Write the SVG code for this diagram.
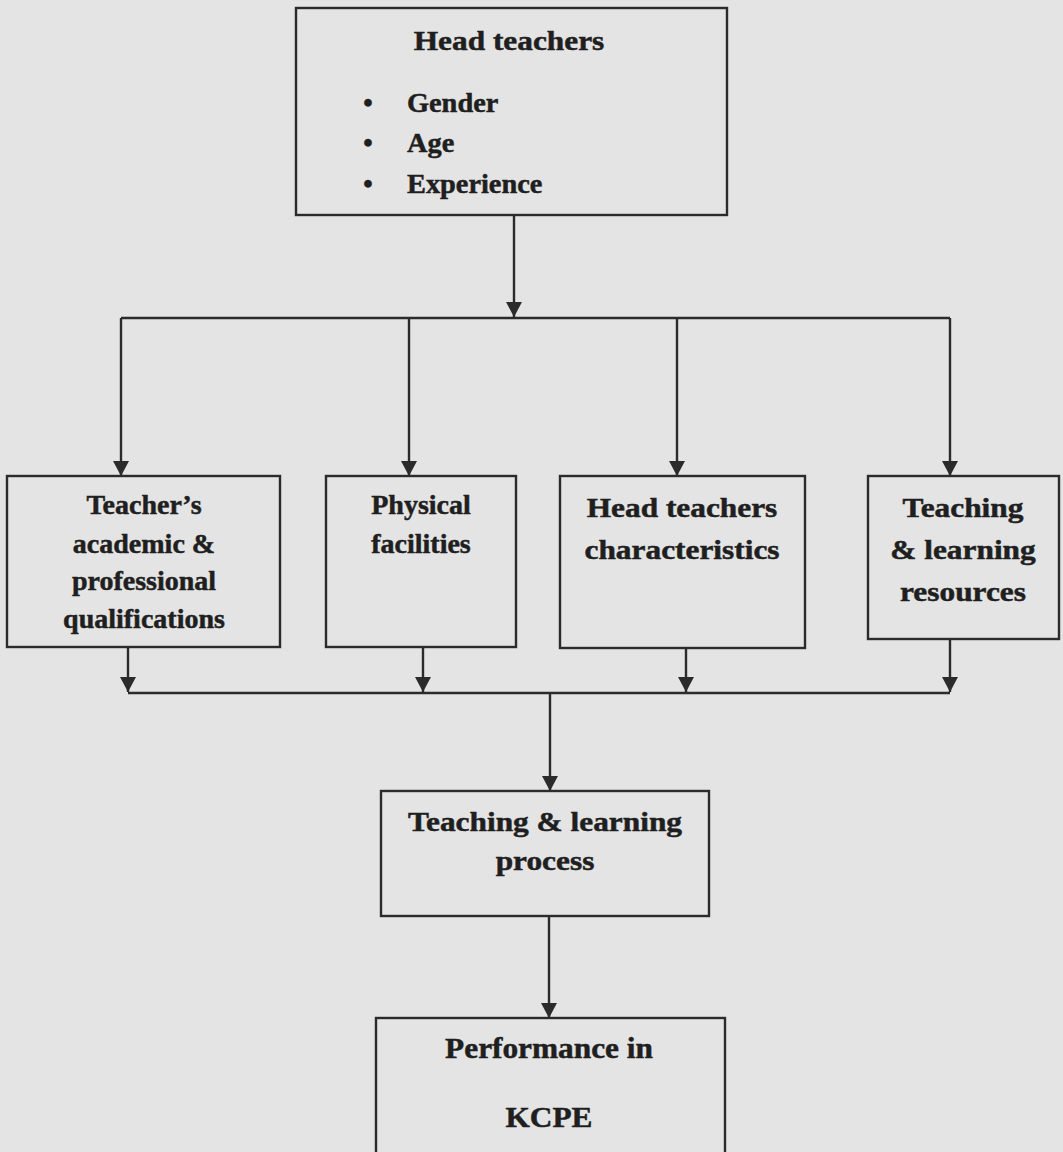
<svg xmlns="http://www.w3.org/2000/svg" width="1063" height="1152" viewBox="0 0 1063 1152">
  <style>
    .box { fill: none; stroke: #2b2b2b; stroke-width: 2.4; }
    .conn { fill: none; stroke: #2b2b2b; stroke-width: 2.4; }
    .t { font-family: "Liberation Serif", "Times New Roman", serif; font-weight: bold; font-size: 28px; fill: #1f1f1f; stroke: #1f1f1f; stroke-width: 0.5; text-anchor: middle; }
    .b { font-family: "Liberation Serif", "Times New Roman", serif; font-weight: bold; font-size: 27px; fill: #1f1f1f; stroke: #1f1f1f; stroke-width: 0.5; }
  </style>
  <defs>
    <marker id="ah" viewBox="0 0 15 16" refX="15" refY="8" markerWidth="15" markerHeight="16" markerUnits="userSpaceOnUse" orient="auto">
      <path d="M0,0 L15,8 L0,16 Z" fill="#2b2b2b"/>
    </marker>
  </defs>
  <rect x="0" y="0" width="1063" height="1152" fill="#e4e4e4"/>

  <g id="connectors">
    <line class="conn" x1="514" y1="215" x2="514" y2="317" marker-end="url(#ah)"/>
    <line class="conn" x1="121" y1="318" x2="950" y2="318"/>
    <line class="conn" x1="121" y1="318" x2="121" y2="476" marker-end="url(#ah)"/>
    <line class="conn" x1="409" y1="318" x2="409" y2="476" marker-end="url(#ah)"/>
    <line class="conn" x1="677" y1="318" x2="677" y2="476" marker-end="url(#ah)"/>
    <line class="conn" x1="950" y1="318" x2="950" y2="476" marker-end="url(#ah)"/>
    <line class="conn" x1="128" y1="647" x2="128" y2="692" marker-end="url(#ah)"/>
    <line class="conn" x1="423" y1="647" x2="423" y2="692" marker-end="url(#ah)"/>
    <line class="conn" x1="686" y1="648" x2="686" y2="692" marker-end="url(#ah)"/>
    <line class="conn" x1="950" y1="639" x2="950" y2="692" marker-end="url(#ah)"/>
    <line class="conn" x1="128" y1="693" x2="950" y2="693"/>
    <line class="conn" x1="550" y1="693" x2="550" y2="791" marker-end="url(#ah)"/>
    <line class="conn" x1="549" y1="916" x2="549" y2="1018" marker-end="url(#ah)"/>
  </g>

  <g id="head-teachers">
    <rect class="box" x="296" y="8" width="431" height="207"/>
    <text class="t" transform="translate(509 0) scale(1.12 1)" x="0" y="50">Head teachers</text>
    <text class="b" x="368" y="112" text-anchor="middle">•</text>
    <text class="b" x="368" y="152" text-anchor="middle">•</text>
    <text class="b" x="368" y="193" text-anchor="middle">•</text>
    <text class="b" transform="translate(407 0) scale(1.05 1)" x="0" y="112">Gender</text>
    <text class="b" transform="translate(407 0) scale(1.05 1)" x="0" y="152">Age</text>
    <text class="b" transform="translate(407 0) scale(1.05 1)" x="0" y="193">Experience</text>
  </g>

  <g id="teacher-qualifications">
    <rect class="box" x="7" y="476" width="273" height="171"/>
    <text class="t" x="144" y="514">Teacher’s</text>
    <text class="t" x="144" y="553">academic &amp;</text>
    <text class="t" x="144" y="590">professional</text>
    <text class="t" x="144" y="628">qualifications</text>
  </g>

  <g id="physical-facilities">
    <rect class="box" x="326" y="476" width="190" height="171"/>
    <text class="t" x="421" y="514">Physical</text>
    <text class="t" x="421" y="553">facilities</text>
  </g>

  <g id="head-teachers-characteristics">
    <rect class="box" x="560" y="476" width="245" height="172"/>
    <text class="t" transform="translate(682 0) scale(1.12 1)" x="0" y="517">Head teachers</text>
    <text class="t" transform="translate(682 0) scale(1.12 1)" x="0" y="559">characteristics</text>
  </g>

  <g id="teaching-learning-resources">
    <rect class="box" x="868" y="476" width="191" height="163"/>
    <text class="t" transform="translate(963 0) scale(1.12 1)" x="0" y="517">Teaching</text>
    <text class="t" transform="translate(963 0) scale(1.12 1)" x="0" y="559">&amp; learning</text>
    <text class="t" transform="translate(963 0) scale(1.12 1)" x="0" y="601">resources</text>
  </g>

  <g id="teaching-learning-process">
    <rect class="box" x="381" y="791" width="328" height="125"/>
    <text class="t" transform="translate(545 0) scale(1.12 1)" x="0" y="831">Teaching &amp; learning</text>
    <text class="t" transform="translate(545 0) scale(1.12 1)" x="0" y="870">process</text>
  </g>

  <g id="performance-kcpe">
    <rect class="box" x="376" y="1018" width="349" height="150"/>
    <text class="t" style="font-size:29px" transform="translate(549 0) scale(1.08 1)" x="0" y="1058">Performance in</text>
    <text class="t" style="font-size:29px" transform="translate(549 0) scale(1.08 1)" x="0" y="1127">KCPE</text>
  </g>
</svg>
